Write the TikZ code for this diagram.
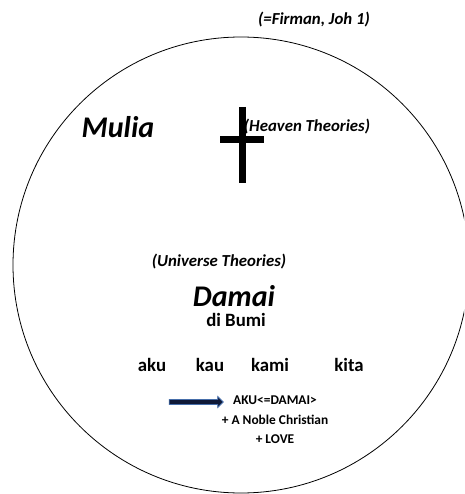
\documentclass[tikz,border=0pt]{standalone}
\usepackage{fontspec}
\setmainfont{Carlito}
\usetikzlibrary{shapes,arrows,positioning}
\definecolor{arrowfill}{RGB}{15,25,55}
\definecolor{arrowline}{RGB}{70,110,170}

\begin{document}
\begin{tikzpicture}[
    x=1pt, y=-1pt,
    title/.style={font=\fontsize{30}{34}\selectfont\bfseries\itshape, inner sep=0pt},
    theory/.style={font=\fontsize{16.8}{20}\selectfont\bfseries\itshape, inner sep=0pt},
    word/.style={font=\fontsize{18.8}{22}\selectfont\bfseries, inner sep=0pt},
    note/.style={font=\fontsize{13.4}{19.5}\selectfont\bfseries, align=center, inner sep=0pt},
    crossbar/.style={line width=7pt},
    blockarrow/.style={single arrow, draw=arrowline, fill=arrowfill, line width=0.8pt,
        minimum height=54pt, minimum width=11pt, single arrow head extend=3pt, inner sep=2pt}
]
\useasboundingbox (0,0) rectangle (464,494);
\clip (0,0) rectangle (464,494);

% World
\draw[line width=0.8pt] (241,265) circle (228pt);

% Heaven
\node[theory] (firman) at (314,20) {(=Firman, Joh 1)};
\node[title] (mulia) at (118,127) {Mulia};
\draw[crossbar] (242,107) -- (242,183);
\draw[crossbar] (220,140) -- (264,140);
\node[theory] (heaven) at (307,127) {(Heaven Theories)};

% Earth
\node[theory] (universe) at (219,262) {(Universe Theories)};
\node[title] (damai) at (234,296) {Damai};
\node[word] (bumi) at (236,320) {di Bumi};

% People
\node[word] (aku) at (152,365) {aku};
\node[word] (kau) at (210,365) {kau};
\node[word] (kami) at (270,365) {kami};
\node[word] (kita) at (349,365) {kita};

% Conclusion
\node[blockarrow] (arrow) at (195,402) {};
\node[note, anchor=north] (noble) at (275,396) {AKU<=DAMAI>\\+ A Noble Christian\\+ LOVE};

\end{tikzpicture}
\end{document}
